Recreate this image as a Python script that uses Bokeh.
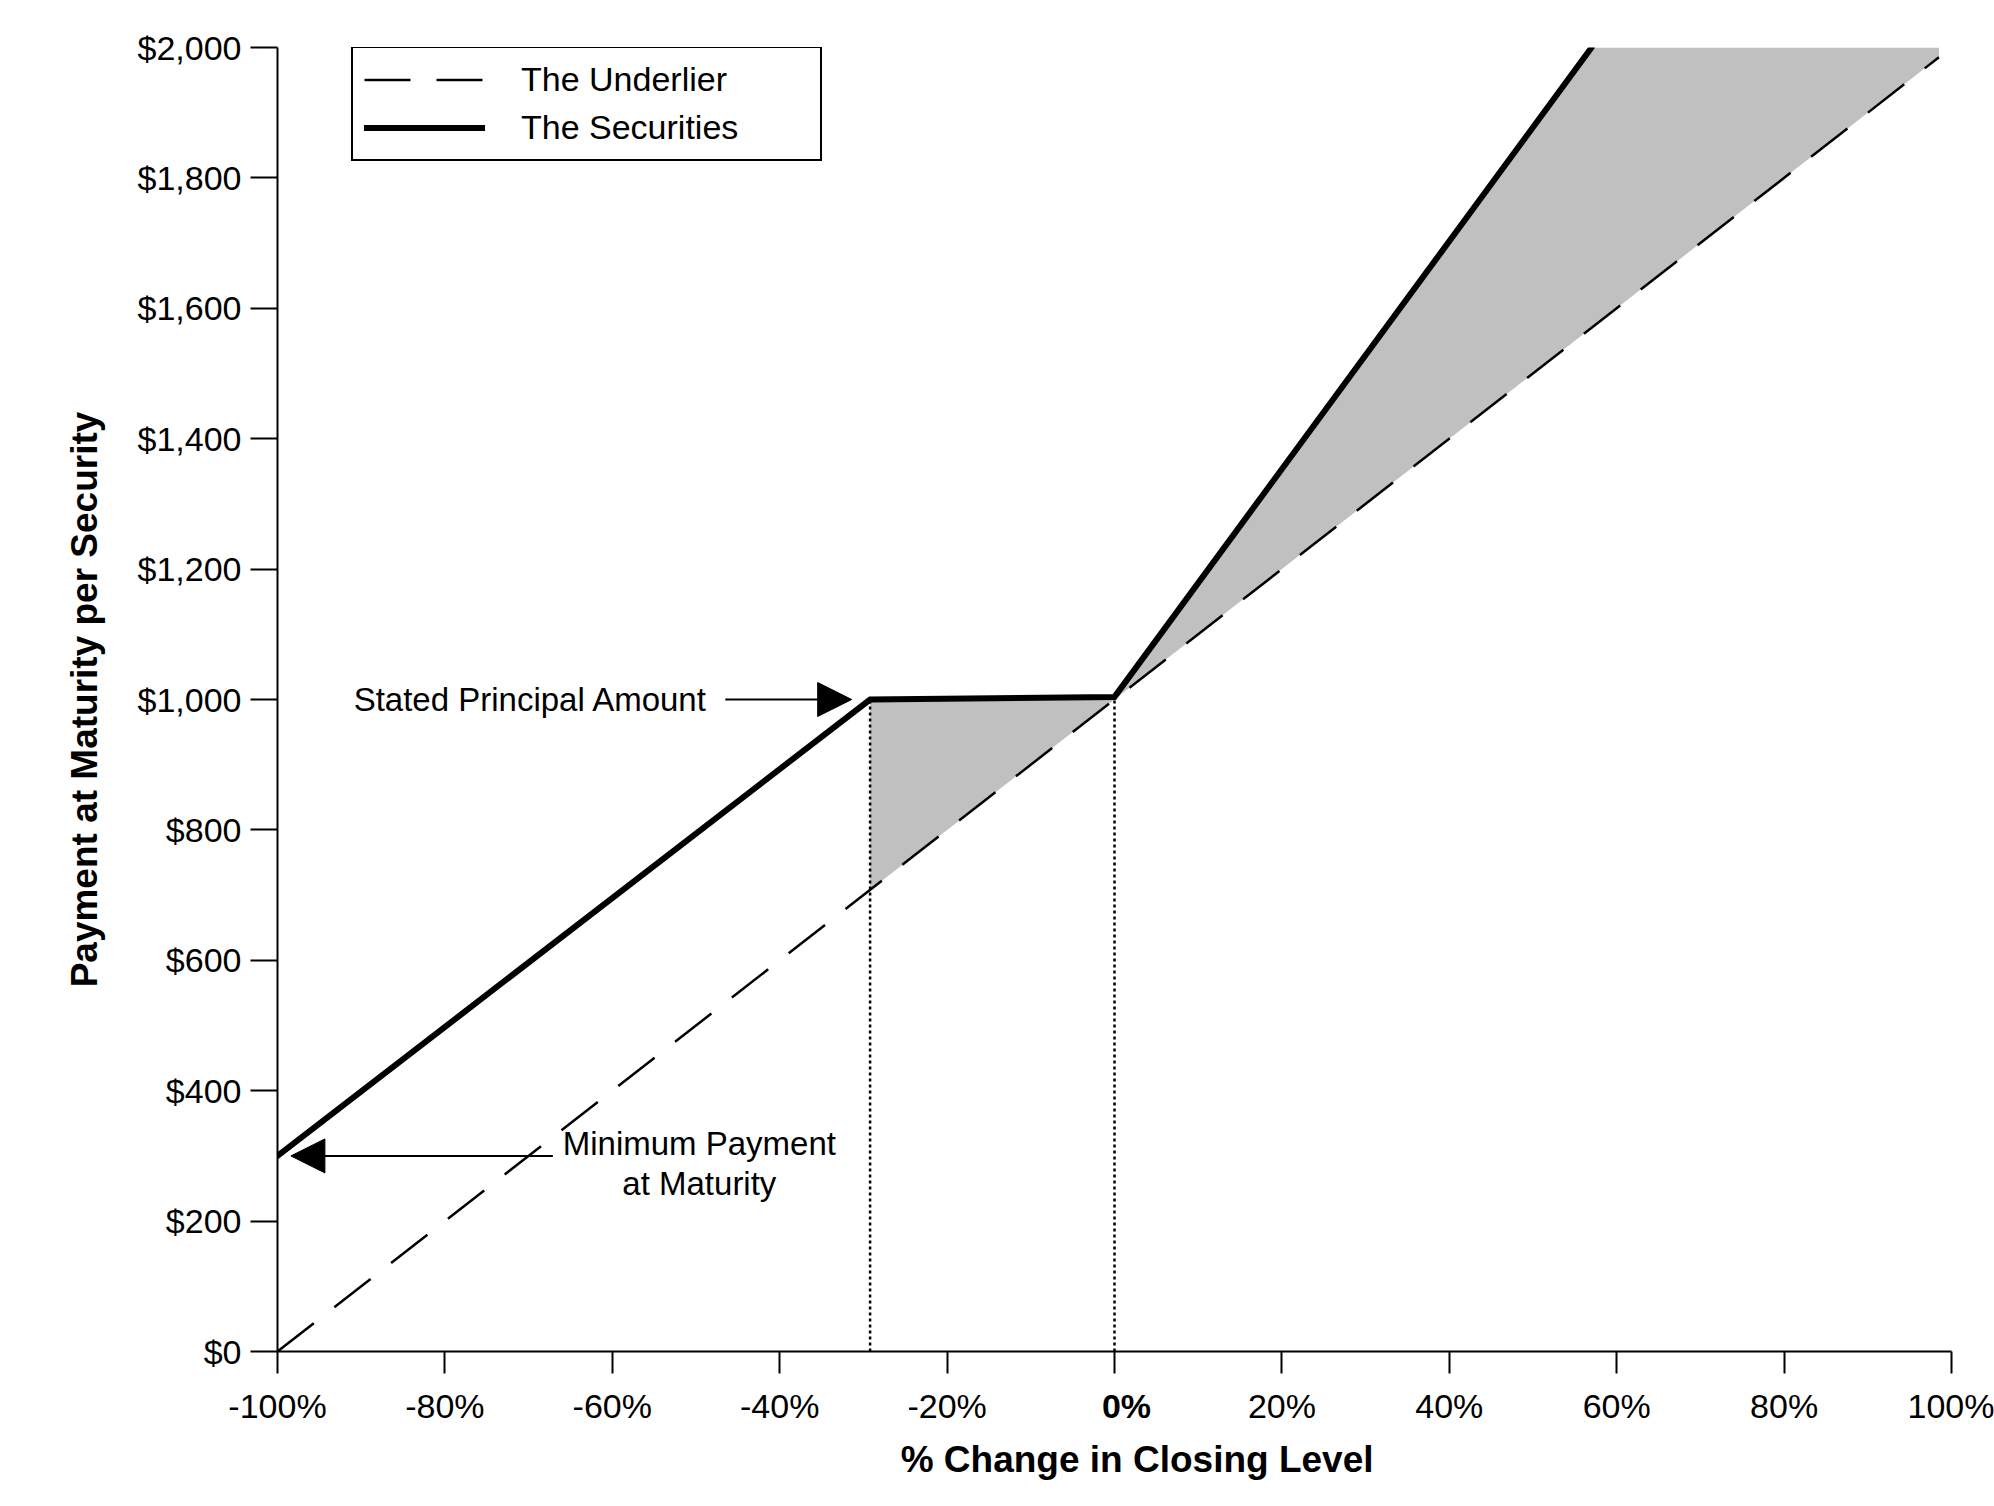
from bokeh.plotting import figure
from bokeh.models import (Range1d, FixedTicker, NumeralTickFormatter, Legend, LegendItem,
                          Arrow, NormalHead, Label)
from bokeh.core.properties import value
from bokeh.embed import file_html
from bokeh.resources import INLINE

# ---------------- data ----------------
x_ticks = [-100, -80, -60, -40, -20, 0, 20, 40, 60, 80, 100]
x_tick_labels = ["-100%", "-80%", "-60%", "-40%", "-20%", "0%", "20%", "40%", "60%", "80%", "100%"]
y_ticks = [0, 200, 400, 600, 800, 1000, 1200, 1400, 1600, 1800, 2000]

underlier_x = [-100, 98.5]
underlier_y = [0, 1985]

securities_x = [-100, -29.2, 0, 57]
securities_y = [300, 1000, 1004, 2000]

# shaded areas (securities above underlier)
shade_left_x = [-29.2, 0]
shade_left_lo = [708, 1000]
shade_left_hi = [1000, 1004]
shade_right_x = [0, 57, 98.5]
shade_right_lo = [1000, 1570, 1985]
shade_right_hi = [1000, 2000, 2000]

dotted_x = [-29.2, 0]
dotted_top = [1000, 1004]

stated_text = "Stated Principal Amount"
stated_text_pos = (-90.9, 1000)
stated_arrow = (-46.5, 1000, -31.4, 1000)

min_text = ["Minimum Payment", "at Maturity"]
min_text_x = [-49.6, -49.6]
min_text_y = [319, 258]
min_arrow = (-67.1, 300, -98.4, 300)

x_title = "% Change in Closing Level"
x_title_pos = 2.7
y_title = "Payment at Maturity per Security"
FONT = "Liberation Sans"

# ---------------- figure ----------------
W, H = 1994, 1500
p = figure(width=W, height=H, output_backend="svg", toolbar_location=None,
           x_range=Range1d(-100, 100), y_range=Range1d(0, 2000),
           min_border_left=277, min_border_right=43, min_border_top=47, min_border_bottom=H - 1351)
p.outline_line_color = None
p.grid.visible = False
p.background_fill_color = "white"
p.border_fill_color = "white"

GRAY = "#C0C0C0"
p.varea(x=shade_left_x, y1=shade_left_lo, y2=shade_left_hi, fill_color=GRAY)
p.varea(x=shade_right_x, y1=shade_right_lo, y2=shade_right_hi, fill_color=GRAY)

r_under = p.line(underlier_x, underlier_y, line_color="black", line_width=2.5, line_dash="46 26")
for xv, yt in zip(dotted_x, dotted_top):
    p.line([xv, xv], [0, yt], line_color="black", line_width=2.5, line_dash="3 3")
r_sec = p.line(securities_x, securities_y, line_color="black", line_width=6,
               line_cap="round", line_join="miter")

# arrows
for (xs, ys, xe, ye) in [stated_arrow, min_arrow]:
    p.add_layout(Arrow(end=NormalHead(size=34, fill_color="black", line_color="black", line_width=1),
                       x_start=xs, y_start=ys, x_end=xe, y_end=ye,
                       line_color="black", line_width=2))

p.text(x=[stated_text_pos[0]], y=[stated_text_pos[1]], text=[stated_text],
       text_font=value(FONT), text_font_size="33px", text_align="left",
       text_baseline="middle", text_color="black")
p.text(x=min_text_x, y=min_text_y, text=min_text,
       text_font=value(FONT), text_font_size="33px", text_align="center",
       text_baseline="middle", text_color="black")

# ---------------- axes ----------------
xa = p.xaxis[0]
xa.ticker = FixedTicker(ticks=x_ticks)
xa.major_label_overrides = {t: (" " if lab == "0%" else lab) for t, lab in zip(x_ticks, x_tick_labels)}
ya = p.yaxis[0]
ya.ticker = FixedTicker(ticks=y_ticks)
ya.formatter = NumeralTickFormatter(format="$0,0")

for ax in (xa, ya):
    ax.axis_line_width = 2
    ax.axis_line_color = "black"
    ax.major_tick_line_width = 2
    ax.major_tick_line_color = "black"
    ax.major_tick_in = 0
    ax.minor_tick_line_color = None
    ax.major_label_text_font = FONT
    ax.major_label_text_font_size = "34px"
    ax.major_label_text_color = "black"
    ax.axis_label_text_font = FONT
    ax.axis_label_text_font_size = "37px"
    ax.axis_label_text_font_style = "bold"
    ax.axis_label_text_color = "black"

xa.major_tick_out = 22
xa.major_label_standoff = 13
ya.major_tick_out = 27
ya.major_label_standoff = 9
ya.axis_label = y_title
ya.axis_label_standoff = 30

# bold 0% tick label and x-axis title (side panels, so not clipped to the frame)
zero_idx = x_tick_labels.index("0%")
p.add_layout(Label(x=x_ticks[zero_idx], y=0, x_units="data", y_units="data",
                   text=x_tick_labels[zero_idx], text_font=FONT,
                   text_font_size="34px", text_font_style="bold", text_align="center",
                   text_baseline="top", x_offset=12, y_offset=-35, text_color="black"), "above")
p.add_layout(Label(x=x_title_pos, y=0, x_units="data", y_units="data",
                   text=x_title, text_font=FONT,
                   text_font_size="37px", text_font_style="bold", text_align="center",
                   text_baseline="middle", y_offset=-108, text_color="black"), "below")

# ---------------- legend ----------------
legend = Legend(items=[LegendItem(label="The Underlier", renderers=[r_under]),
                       LegendItem(label="The Securities", renderers=[r_sec])],
                location=(74, 1190), orientation="vertical",
                border_line_color="black", border_line_width=2, border_line_alpha=1.0,
                background_fill_color="white", background_fill_alpha=1.0,
                padding=11, spacing=7, margin=0,
                glyph_width=121, glyph_height=41, label_height=41, label_width=288,
                label_standoff=36,
                label_text_font=FONT, label_text_font_size="34px", label_text_color="black")
p.add_layout(legend, "center")

open("out.html", "w").write(file_html(p, INLINE))
